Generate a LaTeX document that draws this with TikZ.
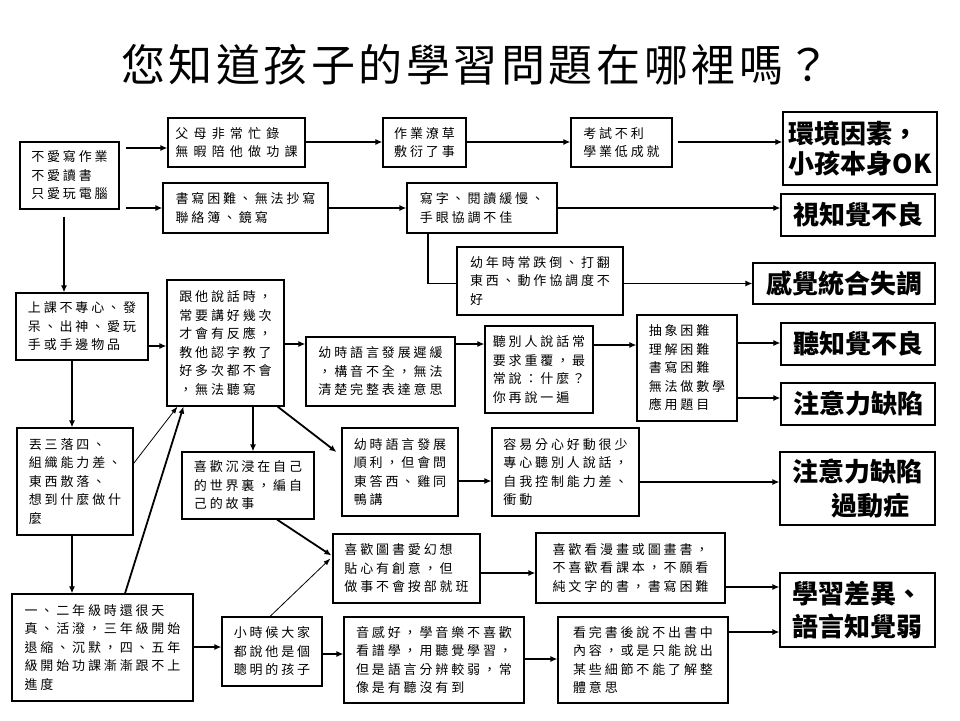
\documentclass[tikz,border=0pt]{standalone}
\usepackage{fontspec}
\newfontfamily\cjk[LetterSpace=22]{Noto Sans CJK TC}
\newfontfamily\cjkbig{Noto Sans CJK TC}
\newfontfamily\cjktitle[LetterSpace=8]{Noto Sans CJK TC}
\usetikzlibrary{arrows.meta,backgrounds}
\begin{document}
\begin{tikzpicture}[x=1pt,y=-1pt,
  box/.style={draw, line width=1.1pt, fill=white, align=left, inner xsep=4pt, inner ysep=2pt,
    font={\cjk\fontsize{13}{18.5}\selectfont}},
  result/.style={draw, line width=1.1pt, fill=white, align=left, inner xsep=4pt,
    font={\cjkbig\bfseries\fontsize{26}{31}\selectfont}},
  arr/.style={line width=1.8pt, -{Latex[length=7pt,width=6pt]}},
  thinarr/.style={line width=0.8pt, -{Latex[length=7pt,width=5pt]}}]
\useasboundingbox (0,0) rectangle (960,720);

\node[font={\cjktitle\fontsize{44}{50}\selectfont}] (title) at (476,65) {您知道孩子的學習問題在哪裡嗎？};

% row 1
\node[box, minimum width=99pt, minimum height=67pt] (A) at (69.5,175.5) {不愛寫作業\\不愛讀書\\只愛玩電腦};
\node[box, minimum width=137pt, minimum height=49pt, font={\cjk\addfontfeature{LetterSpace=40}\fontsize{13}{18.5}\selectfont}] (B) at (236.5,142.5) {父母非常忙錄\\無暇陪他做功課};
\node[box, minimum width=165pt, minimum height=50pt] (C) at (245.5,208) {書寫困難、無法抄寫\\聯絡簿、鏡寫};
\node[box, minimum width=83pt, minimum height=49pt] (D) at (424.5,142.5) {作業潦草\\敷衍了事};
\node[box, minimum width=101pt, minimum height=49pt] (E) at (621.5,142.5) {考試不利\\學業低成就};
\node[result, minimum width=154pt, minimum height=73pt, font={\cjkbig\bfseries\fontsize{26}{30}\selectfont}] (F) at (860,148.5) {環境因素，\\小孩本身OK};
\node[box, minimum width=150pt, minimum height=50pt] (G) at (482,208) {寫字、閱讀緩慢、\\手眼協調不佳};
\node[result, minimum width=154pt, minimum height=42pt] (H) at (858,215) {視知覺不良};
\node[box, minimum width=166pt, minimum height=68pt] (I) at (540,281) {幼年時常跌倒、打翻\\東西、動作協調度不\\好};
\node[result, minimum width=182pt, minimum height=41pt] (J) at (844,283.5) {感覺統合失調};

% row 2
\node[box, minimum width=132pt, minimum height=67pt] (K) at (82,326.5) {上課不專心、發\\呆、出神、愛玩\\手或手邊物品};
\node[box, minimum width=117pt, minimum height=126pt] (L) at (225.5,343) {跟他說話時，\\常要講好幾次\\才會有反應，\\教他認字教了\\好多次都不會\\，無法聽寫};
\node[box, minimum width=149pt, minimum height=69pt] (M) at (380.5,371.5) {幼時語言發展遲緩\\，構音不全，無法\\清楚完整表達意思};
\node[box, minimum width=108pt, minimum height=87pt] (N) at (539,369.5) {聽別人說話常\\要求重覆，最\\常說：什麼？\\你再說一遍};
\node[box, minimum width=100pt, minimum height=106pt] (O) at (687,368) {抽象困難\\理解困難\\書寫困難\\無法做數學\\應用題目};
\node[result, minimum width=154pt, minimum height=42pt] (P) at (858,344) {聽知覺不良};
\node[result, minimum width=154pt, minimum height=42pt] (Q) at (858,404) {注意力缺陷};

% row 3
\node[box, minimum width=116pt, minimum height=107pt] (R) at (75,481.5) {丟三落四、\\組織能力差、\\東西散落、\\想到什麼做什\\麼};
\node[box, minimum width=132pt, minimum height=67pt] (S) at (248,485.5) {喜歡沉浸在自己\\的世界裏，編自\\己的故事};
\node[box, minimum width=116pt, minimum height=88pt] (T) at (400,472) {幼時語言發展\\順利，但會問\\東答西、雞同\\鴨講};
\node[box, minimum width=147pt, minimum height=88pt] (U) at (565.5,472) {容易分心好動很少\\專心聽別人說話，\\自我控制能力差、\\衝動};
\node[result, minimum width=155pt, minimum height=73pt, font={\cjkbig\bfseries\fontsize{26}{34}\selectfont}] (V) at (857.5,488.5) {注意力缺陷\\\hspace*{1.5em}過動症};

% row 4
\node[box, minimum width=147pt, minimum height=69pt] (W) at (406.5,568.5) {喜歡圖書愛幻想\\貼心有創意，但\\做事不會按部就班};
\node[box, minimum width=189pt, minimum height=70pt] (X) at (630.5,568) {喜歡看漫畫或圖畫書，\\不喜歡看課本，不願看\\純文字的書，書寫困難};
\node[result, minimum width=155pt, minimum height=74pt, font={\cjkbig\bfseries\fontsize{26}{33}\selectfont}] (Y) at (857.5,610) {學習差異、\\語言知覺弱};

% row 5
\node[box, minimum width=181pt, minimum height=107pt] (Z1) at (102.5,647.5) {一、二年級時還很天\\真、活潑，三年級開始\\退縮、沉默，四、五年\\級開始功課漸漸跟不上\\進度};
\node[box, minimum width=100pt, minimum height=69pt] (Z2) at (272,651.5) {小時候大家\\都說他是個\\聰明的孩子};
\node[box, minimum width=180pt, minimum height=86pt] (Z3) at (434,660) {音感好，學音樂不喜歡\\看譜學，用聽覺學習，\\但是語言分辨較弱，常\\像是有聽沒有到};
\node[box, minimum width=170pt, minimum height=86pt] (Z4) at (643,660) {看完書後說不出書中\\內容，或是只能說出\\某些細節不能了解整\\體意思};

\begin{pgfonlayer}{background}
\fill[white] (0,0) rectangle (960,720);
\draw[arr, shorten <=6pt] (A.east |- 0,148) -- (B.west |- 0,148);
\draw[arr, shorten <=6pt] (A.east |- 0,208) -- (C.west |- 0,208);
\draw[arr] (B.east |- 0,142) -- (D.west |- 0,142);
\draw[arr] (D.east |- 0,142) -- (E.west |- 0,142);
\draw[arr, shorten <=5pt] (E.east |- 0,142) -- (F.west |- 0,142);
\draw[arr] (C.east |- 0,208) -- (G.west |- 0,208);
\draw[arr] (G.east |- 0,208) -- (H.west |- 0,208);
\draw[arr] (G.south -| 428,0) |- (J.west);
\draw[arr, shorten <=7pt] (A.south -| 64,0) -- (K.north -| 64,0);
\draw[arr] (K.east |- 0,346) -- (L.west |- 0,346);
\draw[arr] (L.east |- 0,344) -- (M.west |- 0,344);
\draw[arr] (M.east |- 0,344) -- (N.west |- 0,344);
\draw[arr] (N.east |- 0,345) -- (O.west |- 0,345);
\draw[arr] (O.east |- 0,343) -- (P.west |- 0,343);
\draw[arr] (O.east |- 0,398) -- (Q.west |- 0,398);
\draw[arr] (K.south -| 72,0) -- (R.north -| 72,0);
\draw[arr] (R.south -| 72,0) -- (Z1.north -| 72,0);
\draw[thinarr] ([yshift=18pt]R.east) -- ([xshift=-48pt]L.south);
\draw[arr] ([xshift=22.5pt]Z1.north) -- ([xshift=-42pt]L.south);
\draw[arr] (L.south -| 253,0) -- (S.north -| 253,0);
\draw[arr] ([xshift=-7pt]L.south east) -- ([xshift=-5pt,yshift=20pt]T.west);
\draw[arr] (T.east |- 0,481) -- (U.west |- 0,481);
\draw[arr] (U.east |- 0,482) -- (V.west |- 0,482);
\draw[arr] ([xshift=29pt]S.south) -- ([xshift=-1pt,yshift=13pt]W.west);
\draw[thinarr] ([xshift=-2pt]Z2.north) -- ([xshift=-2pt,yshift=10pt]W.west);
\draw[arr] (W.east |- 0,573) -- (X.west |- 0,573);
\draw[arr] (X.east |- 0,587) -- (Y.west |- 0,587);
\draw[arr] (Z4.east |- 0,632) -- (Y.west |- 0,632);
\draw[arr] (Z1.east |- 0,647) -- (Z2.west |- 0,647);
\draw[arr] (Z2.east |- 0,654) -- (Z3.west |- 0,654);
\draw[arr] (Z3.east |- 0,659) -- (Z4.west |- 0,659);
\end{pgfonlayer}
\end{tikzpicture}
\end{document}
